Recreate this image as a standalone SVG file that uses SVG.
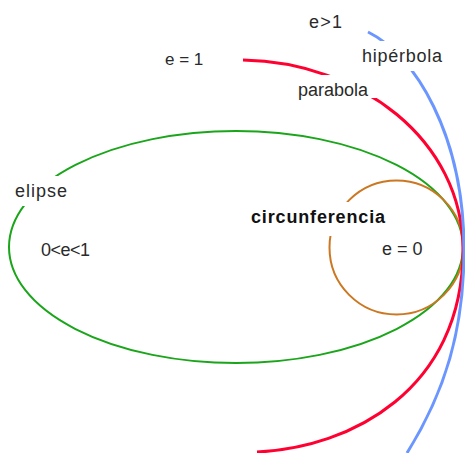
<svg xmlns="http://www.w3.org/2000/svg" width="465" height="453" viewBox="0 0 465 453">
<style>
.lbl{font-family:"Liberation Sans",Arial,sans-serif;font-size:18px;fill:#2a2a2a}
.bold{font-weight:bold;fill:#111}
.c{fill:none;stroke-linecap:butt}
</style>
<defs>
<mask id="gaps" maskUnits="userSpaceOnUse" x="0" y="0" width="465" height="453">
<rect x="0" y="0" width="465" height="453" fill="#fff"/>
<rect x="358" y="41" width="88" height="30" fill="#000"/>
<rect x="294" y="75" width="86" height="23" fill="#000"/>
<rect x="4" y="176" width="66" height="30" fill="#000"/>
<rect x="245" y="202" width="175" height="34" fill="#000"/>
</mask>
</defs>
<rect width="465" height="453" fill="#fff"/>
<g id="curves" mask="url(#gaps)">
<ellipse id="elipse" class="c" cx="236" cy="247" rx="227" ry="116" stroke="#1aa51a" stroke-width="2"/>
<circle id="circunferencia" class="c" cx="396.5" cy="247.5" r="67" stroke="#cc7722" stroke-width="2"/>
<path id="parabola" class="c" d="M243,60 C360,62 463,140 463,250 C463,390 350,448 257,452" stroke="#ff0030" stroke-width="3"/>
<path id="hiperbola" class="c" d="M368,32 C415,55 464,135 464,250 C464,330 445,392 407,453" stroke="#6c96ff" stroke-width="3"/>
</g>
<g id="labels">
<text class="lbl" x="309" y="28" textLength="33">e&gt;1</text>
<text class="lbl" x="165" y="65" style="font-size:17px">e = 1</text>
<text class="lbl" x="362" y="62" textLength="80">hipérbola</text>
<text class="lbl" x="298" y="96" textLength="70">parabola</text>
<text class="lbl" x="15" y="197" textLength="52">elipse</text>
<text class="lbl" x="41" y="256" textLength="49">0&lt;e&lt;1</text>
<text class="lbl bold" x="251" y="223" textLength="134">circunferencia</text>
<text class="lbl" x="382" y="255">e = 0</text>
</g>
</svg>
